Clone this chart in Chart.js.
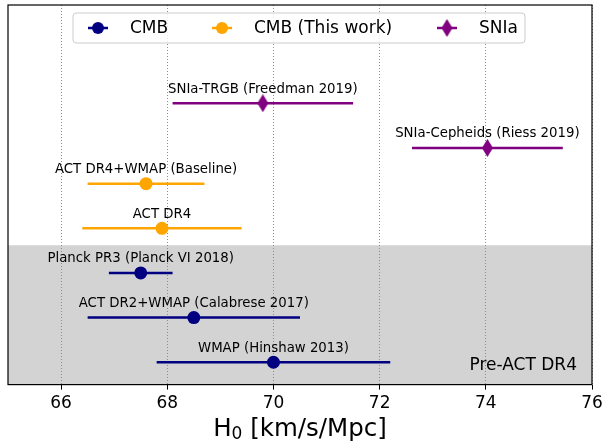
<!DOCTYPE html>
<html>
<head>
<meta charset="utf-8">
<script src="https://cdn.jsdelivr.net/npm/chart.js@4.4.0/dist/chart.umd.min.js"></script>
<style>
  html, body { margin: 0; padding: 0; background: #fff; }
</style>
</head>
<body>
<canvas id="h0Chart" width="603" height="444"></canvas>
<script>
// Values (H0 in km/s/Mpc, symmetric 1-sigma errors)
const cmbLabels = ['WMAP (Hinshaw 2013)', 'ACT DR2+WMAP (Calabrese 2017)', 'Planck PR3 (Planck VI 2018)'];
const cmbH0 = [70.0, 68.5, 67.5];
const cmbErr = [2.2, 2.0, 0.6];
const cmbRows = [0, 1, 2];

const actLabels = ['ACT DR4', 'ACT DR4+WMAP (Baseline)'];
const actH0 = [67.9, 67.6];
const actErr = [1.5, 1.1];
const actRows = [3, 4];

const snLabels = ['SNIa-Cepheids (Riess 2019)', 'SNIa-TRGB (Freedman 2019)'];
const snH0 = [74.03, 69.8];
const snErr = [1.42, 1.7];
const snRows = [4.8, 5.8];

const seriesNames = ['CMB', 'CMB (This work)', 'SNIa'];
const seriesColors = ['#000080', '#ffa500', '#800080'];
const xTicks = [66, 68, 70, 72, 74, 76];
const preActTop = 2.62;   // upper edge of the shaded band
const bandLabel = 'Pre-ACT DR4';

Chart.defaults.font.family = '"DejaVu Sans", sans-serif';
Chart.defaults.color = '#000';

function toPoints(h0, err, rows, labels) {
    return h0.map((v, i) => ({ x: v, y: rows[i], err: err[i], label: labels[i] }));
}

// matplotlib style thin diamond ('d' marker)
function thinDiamond(color) {
    const c = document.createElement('canvas');
    c.width = 11;
    c.height = 18;
    const g = c.getContext('2d');
    g.fillStyle = color;
    g.beginPath();
    g.moveTo(5.5, 0);
    g.lineTo(11, 9);
    g.lineTo(5.5, 18);
    g.lineTo(0, 9);
    g.closePath();
    g.fill();
    return c;
}
const diamond = thinDiamond(seriesColors[2]);

const bandPlugin = {
    id: 'band',
    beforeDraw(chart) {
        const { ctx, chartArea: a, scales } = chart;
        ctx.save();
        ctx.fillStyle = '#fff';
        ctx.fillRect(0, 0, chart.width, chart.height);
        const yTop = scales.y.getPixelForValue(preActTop);
        ctx.fillStyle = '#d3d3d3';
        ctx.fillRect(a.left, yTop, a.right - a.left, a.bottom - yTop);
        ctx.restore();
    }
};

const errorBarPlugin = {
    id: 'errorBars',
    beforeDatasetsDraw(chart) {
        const { ctx, scales } = chart;
        ctx.save();
        ctx.lineWidth = 2.5;
        chart.data.datasets.forEach(ds => {
            ctx.strokeStyle = ds.borderColor;
            ds.data.forEach(p => {
                const y = scales.y.getPixelForValue(p.y);
                ctx.beginPath();
                ctx.moveTo(scales.x.getPixelForValue(p.x - p.err), y);
                ctx.lineTo(scales.x.getPixelForValue(p.x + p.err), y);
                ctx.stroke();
            });
        });
        ctx.restore();
    },
    afterDatasetsDraw(chart) {
        const { ctx, scales, chartArea: a } = chart;
        ctx.save();
        ctx.fillStyle = '#000';
        ctx.font = '13.3px "DejaVu Sans"';
        ctx.textAlign = 'center';
        ctx.textBaseline = 'middle';
        chart.data.datasets.forEach(ds => {
            ds.data.forEach(p => {
                ctx.fillText(p.label, scales.x.getPixelForValue(p.x), scales.y.getPixelForValue(p.y) - 14);
            });
        });
        ctx.font = '17px "DejaVu Sans"';
        ctx.textAlign = 'right';
        ctx.fillText(bandLabel, a.right - 15, a.bottom - 19);
        ctx.restore();
    }
};

const frameLegendPlugin = {
    id: 'frameLegend',
    afterDraw(chart) {
        const { ctx, chartArea: a } = chart;
        ctx.save();
        ctx.strokeStyle = '#000';
        ctx.lineWidth = 1.2;
        ctx.strokeRect(a.left, a.top, a.right - a.left, a.bottom - a.top);

        // x axis title with a real subscript
        const cx = (a.left + a.right) / 2, ty = 430;
        ctx.fillStyle = '#000';
        ctx.textBaseline = 'middle';
        ctx.textAlign = 'left';
        const big = '24.5px "DejaVu Sans"', small = '17px "DejaVu Sans"';
        const rest = ' [km/s/Mpc]';
        ctx.font = big;
        const wH = ctx.measureText('H').width, wRest = ctx.measureText(rest).width;
        ctx.font = small;
        const w0 = ctx.measureText('0').width;
        let tx = cx - (wH + w0 + wRest) / 2;
        ctx.font = big;
        ctx.fillText('H', tx, ty);
        ctx.font = small;
        ctx.fillText('0', tx + wH, ty + 5);
        ctx.font = big;
        ctx.fillText(rest, tx + wH + w0, ty);

        // legend box inside the axes
        const bx = a.left + 65, by = a.top + 8, bw = 452, bh = 30;
        ctx.beginPath();
        ctx.roundRect(bx, by, bw, bh, 3);
        ctx.fillStyle = 'rgba(255,255,255,0.8)';
        ctx.fill();
        ctx.strokeStyle = '#cccccc';
        ctx.lineWidth = 1;
        ctx.stroke();

        const markerX = [bx + 25, bx + 149, bx + 374];
        const cy = by + bh / 2;
        ctx.font = '17px "DejaVu Sans"';
        chart.data.datasets.forEach((ds, i) => {
            const mx = markerX[i];
            ctx.strokeStyle = ds.borderColor;
            ctx.lineWidth = 2.5;
            ctx.beginPath();
            ctx.moveTo(mx - 10, cy);
            ctx.lineTo(mx + 10, cy);
            ctx.stroke();
            if (ds.pointStyle === diamond) {
                ctx.drawImage(diamond, mx - diamond.width / 2, cy - diamond.height / 2);
            } else {
                ctx.fillStyle = ds.backgroundColor;
                ctx.beginPath();
                ctx.arc(mx, cy, 6, 0, Math.PI * 2);
                ctx.fill();
            }
            ctx.fillStyle = '#000';
            ctx.fillText(ds.label, mx + 32, cy + 1);
        });
        ctx.restore();
    }
};

new Chart(document.getElementById('h0Chart'), {
    type: 'scatter',
    data: {
        datasets: [
            {
                label: seriesNames[0],
                data: toPoints(cmbH0, cmbErr, cmbRows, cmbLabels),
                backgroundColor: seriesColors[0],
                borderColor: seriesColors[0],
                pointRadius: 6.5,
                pointBorderWidth: 0
            },
            {
                label: seriesNames[1],
                data: toPoints(actH0, actErr, actRows, actLabels),
                backgroundColor: seriesColors[1],
                borderColor: seriesColors[1],
                pointRadius: 6.5,
                pointBorderWidth: 0
            },
            {
                label: seriesNames[2],
                data: toPoints(snH0, snErr, snRows, snLabels),
                backgroundColor: seriesColors[2],
                borderColor: seriesColors[2],
                pointStyle: diamond,
                pointRadius: 9,
                pointBorderWidth: 0
            }
        ]
    },
    options: {
        responsive: false,
        animation: false,
        events: [],
        layout: { autoPadding: false, padding: { left: 8, right: 11, top: 5, bottom: 26 } },
        plugins: {
            legend: { display: false },
            tooltip: { enabled: false }
        },
        scales: {
            x: {
                type: 'linear',
                min: 65,
                max: 76,
                afterBuildTicks: axis => {
                    axis.ticks = xTicks.map(v => ({ value: v }));
                },
                afterFit: axis => {
                    // the last tick label may hang past the frame, like matplotlib
                    axis.paddingRight = 0;
                    axis.paddingLeft = 0;
                },
                ticks: {
                    font: { size: 17 },
                    color: '#000',
                    padding: 4,
                    maxRotation: 0
                },
                grid: {
                    color: '#8c8c8c',
                    lineWidth: 1,
                    drawTicks: true,
                    tickLength: 5,
                    tickColor: '#000',
                    tickBorderDash: []
                },
                border: { display: false, dash: [1, 2] }
            },
            y: {
                type: 'linear',
                min: -0.5,
                max: 8,
                display: false
            }
        }
    },
    plugins: [bandPlugin, errorBarPlugin, frameLegendPlugin]
});
</script>
</body>
</html>
